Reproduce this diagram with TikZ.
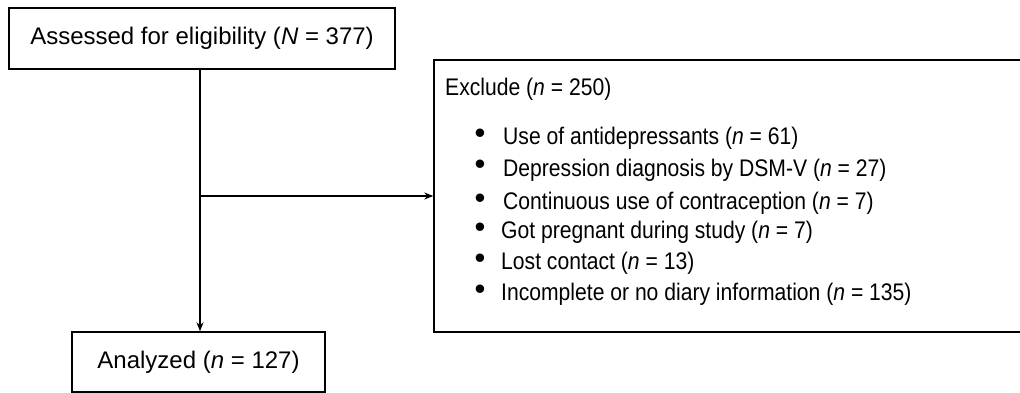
\documentclass[tikz,border=0pt]{standalone}
\usepackage{fontspec}
\setmainfont{Liberation Sans}
\newfontfamily\narrowfont[FakeStretch=0.88]{Liberation Sans}
\usepackage{tikz}
\usetikzlibrary{arrows.meta,positioning}
\tikzset{
    %Define standard arrow tip
    >={Stealth[length=9pt,width=7pt]},
    %Define style for boxes
    flowbox/.style={
           rectangle,
           draw=black, line width=1.4pt,
           minimum width=386pt,
           minimum height=61pt,
           inner sep=0pt,
           font=\fontsize{24}{28}\selectfont,
           text centered},
    excludebox/.style={
           rectangle,
           draw=black, line width=1.4pt,
           minimum width=590pt,
           minimum height=272pt,
           inner sep=0pt},
    listtext/.style={
           anchor=base west,
           inner sep=0pt,
           font=\narrowfont\fontsize{24}{28}\selectfont},
    dot/.style={
           anchor=base,
           inner sep=0pt,
           font=\fontsize{31}{31}\selectfont},
    % Define arrow style
    pil/.style={
           ->,
           line width=1.2pt}
}
\begin{document}
\begin{tikzpicture}[x=1pt,y=-1pt]
\useasboundingbox (0,0) rectangle (1020,393);
\node[flowbox](assessed) at (202,38.5){Assessed for eligibility (\textit{N} = 377)};
\node[flowbox, minimum width=253pt, minimum height=60pt](analyzed) at (198.5,362){Analyzed (\textit{n} = 127)};
\node[excludebox](exclude) at (729,196){};
\coordinate (split) at (200,196);
\node[listtext](title) at (445,96){Exclude (\textit{n} = 250)};
\foreach \i/\y/\x/\txt in {
    1/145/503/{Use of antidepressants (\textit{n} = 61)},
    2/176/503/{Depression diagnosis by DSM-V (\textit{n} = 27)},
    3/209/503/{Continuous use of contraception (\textit{n} = 7)},
    4/238/501/{Got pregnant during study (\textit{n} = 7)},
    5/269/501/{Lost contact (\textit{n} = 13)},
    6/300/501/{Incomplete or no diary information (\textit{n} = 135)}}{
  \node[dot](b\i) at (480,\y-1){\textbullet};
  \node[listtext](item\i) at (\x,\y){\txt};
}
\draw[pil] (assessed.south -| split) -- (analyzed.north -| split);
\draw[pil] (split) -- (split -| exclude.west);
\end{tikzpicture}
\end{document}
